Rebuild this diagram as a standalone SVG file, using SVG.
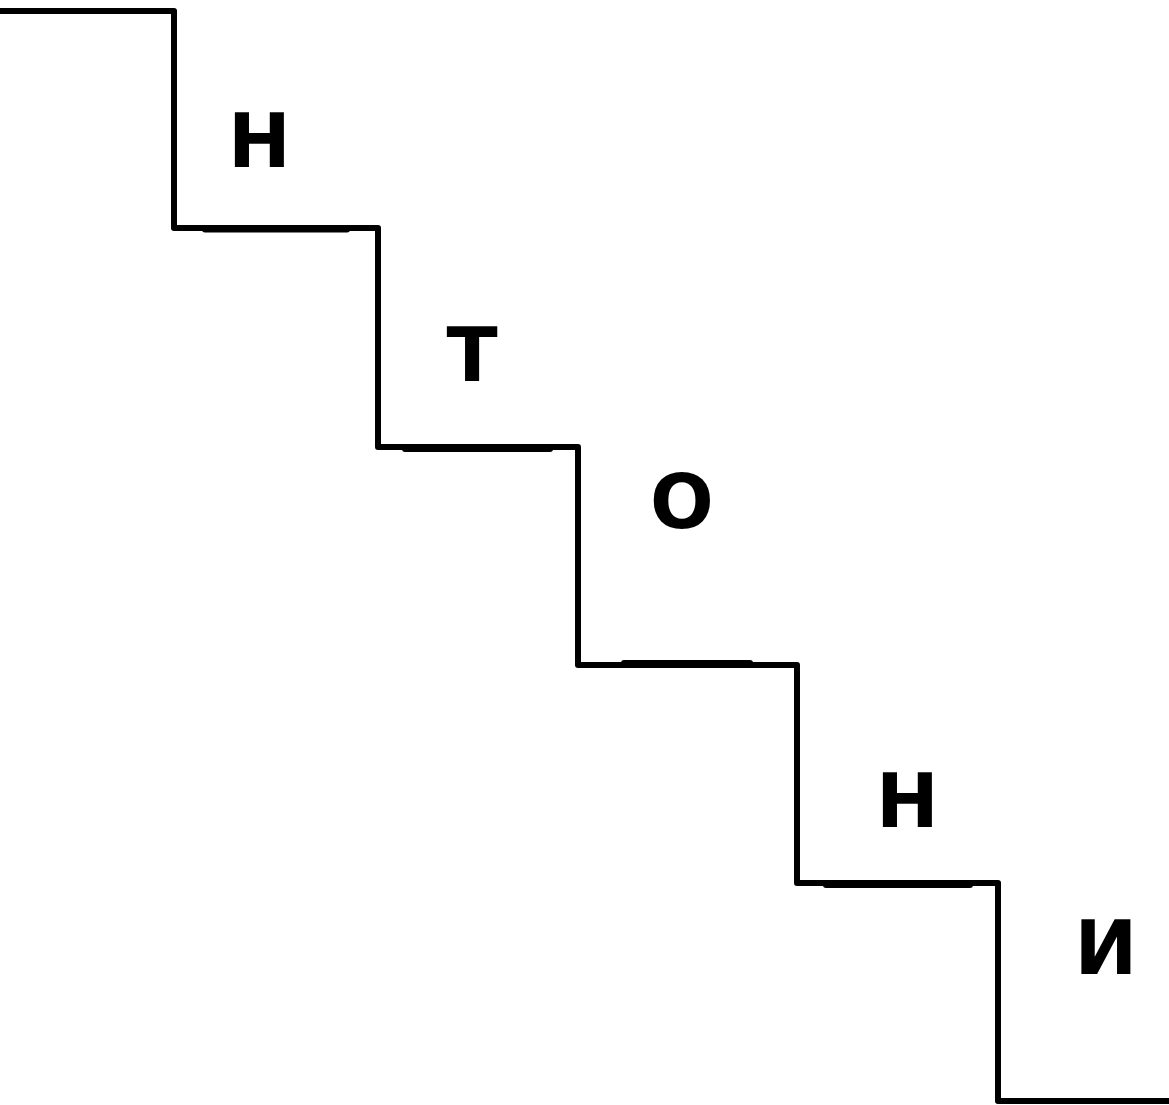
<svg xmlns="http://www.w3.org/2000/svg" width="1169" height="1105" viewBox="0 0 1169 1105">
<style>
.st{fill:none;stroke:#000;stroke-width:6;stroke-linejoin:round;stroke-linecap:round}
.lb{font-family:"DejaVu Sans",sans-serif;font-weight:bold;font-size:75px;text-anchor:middle;fill:#000}
</style>
<rect width="1169" height="1105" fill="#fff"/>
<g id="connectors">
<path class="st" d="M-5,11 H174 V228 H378 V447 H578 V665 H797 V883 H998 V1101 H1175"/>
<path class="st" d="M205,229.5 H347"/>
<path class="st" d="M405,449 H550"/>
<path class="st" d="M624,663 H750"/>
<path class="st" d="M826,885 H970"/>
</g>
<g id="n1"><text class="lb" x="259.5" y="167">Н</text></g>
<g id="n2"><text class="lb" x="472" y="381">Т</text></g>
<g id="n3"><text class="lb" x="682" y="528">О</text></g>
<g id="n4"><text class="lb" x="907.5" y="827">Н</text></g>
<g id="n5"><text class="lb" x="1106" y="974">И</text></g>
</svg>
